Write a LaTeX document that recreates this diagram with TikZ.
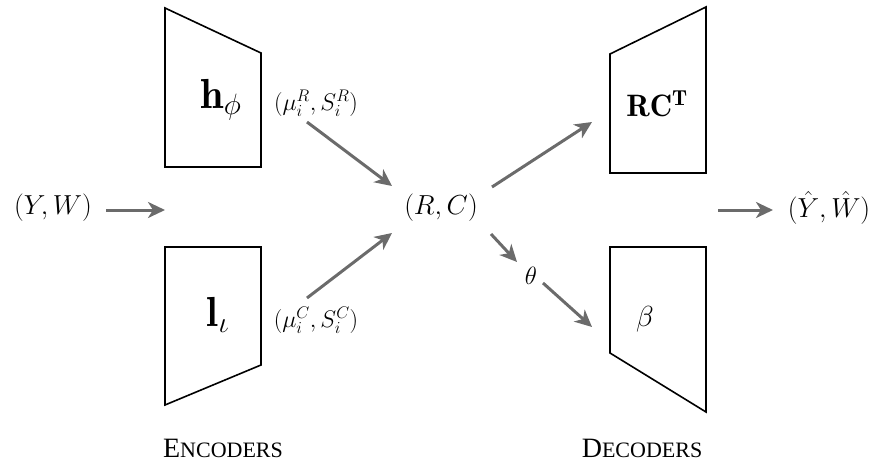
\RequirePackage{fix-cm}
\documentclass[tikz,border=0pt]{standalone}
\usepackage{fontspec}
\newfontfamily\timesf{Liberation Serif}
\usetikzlibrary{arrows.meta}
\definecolor{arrgray}{HTML}{6B6B6B}
\begin{document}
\begin{tikzpicture}[x=1pt,y=-1pt,
  arr/.style={-{Stealth[length=17pt,width=16pt,inset=5pt]}, line width=3pt, draw=arrgray},
  boxline/.style={line width=1.6pt, draw=black, line join=miter},
  lbl/.style={inner sep=0pt, font=\fontsize{27.5}{32}\selectfont},
  biglbl/.style={inner sep=0pt, font=\fontsize{42}{50}\selectfont},
  smalllbl/.style={inner sep=0pt, font=\fontsize{24}{28}\selectfont},
  greeklbl/.style={inner sep=0pt, font=\fontsize{29}{34}\selectfont},
  captxt/.style={inner sep=0pt, anchor=base}
]
\useasboundingbox (0,0) rectangle (875,466);

% shapes
\draw[boxline] (165,8) -- (261,53) -- (261,167) -- (165,167) -- cycle;
\draw[boxline] (165,247) -- (261,247) -- (261,365) -- (165,405) -- cycle;
\draw[boxline] (610,54) -- (706,7) -- (706,173) -- (610,173) -- cycle;
\draw[boxline] (610,247) -- (706,247) -- (706,412) -- (610,353) -- cycle;

% labels
\node[lbl] (YW) at (53,208) {$(Y,W)$};
\node[lbl] (RC) at (441,208) {$(R,C)$};
\node[lbl] (YWh) at (829,208) {$(\hat{Y},\hat{W})$};
\node[biglbl] (h) at (221,100) {$\mathbf{h}_{\phi}$};
\node[biglbl] (l) at (218,315) {$\mathbf{l}_{\iota}$};
\node[lbl,font=\fontsize{31}{36}\selectfont] (rct) at (657,104) {$\mathbf{RC^T}$};
\node[greeklbl] (beta) at (645,319) {$\beta$};
\node[greeklbl,font=\fontsize{25}{30}\selectfont] (theta) at (531,276) {$\theta$};
\node[smalllbl] (muR) at (316,103) {$(\mu_i^R,S_i^R)$};
\node[smalllbl] (muC) at (316,320) {$(\mu_i^C,S_i^C)$};
\node[captxt] (enc) at (223,457) {\timesf\fontsize{28}{30}\selectfont E\fontsize{22}{30}\selectfont NCODERS};
\node[captxt] (dec) at (642,457) {\timesf\fontsize{28}{30}\selectfont D\fontsize{22}{30}\selectfont ECODERS};

% connector ends
\coordinate (a1s) at (106,210); \coordinate (a1e) at (165,210);
\coordinate (a2s) at (307,122); \coordinate (a2e) at (392,186);
\coordinate (a3s) at (307,298); \coordinate (a3e) at (392,233);
\coordinate (a4s) at (492,187); \coordinate (a4e) at (592,122);
\coordinate (a5s) at (491,234); \coordinate (a5e) at (517,262);
\coordinate (a6s) at (543,283); \coordinate (a6e) at (592,327);
\coordinate (a7s) at (718,210); \coordinate (a7e) at (773,210);

\draw[arr] (a1s) -- (a1e);
\draw[arr] (a2s) -- (a2e);
\draw[arr] (a3s) -- (a3e);
\draw[arr] (a4s) -- (a4e);
\draw[arr] (a5s) -- (a5e);
\draw[arr] (a6s) -- (a6e);
\draw[arr] (a7s) -- (a7e);
\end{tikzpicture}
\end{document}
